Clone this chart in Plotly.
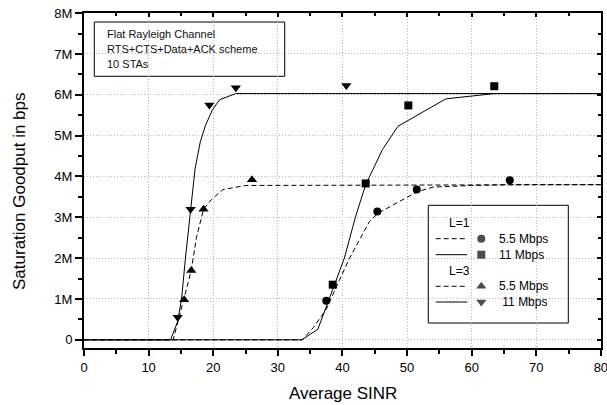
import plotly.graph_objects as go

# ---------------- data (values in millions of bps) ----------------
# analytical curves
l3_11_line_x = [0, 13.4, 14.5, 15.1, 15.7, 16.5, 17.2, 18.0, 18.8, 19.9, 21.0, 23.5, 80]
l3_11_line_y = [0, 0, 0.45, 1.0, 2.0, 3.2, 4.2, 4.85, 5.25, 5.64, 5.88, 6.03, 6.03]

l3_55_line_x = [0, 13.8, 14.55, 15.5, 16.6, 17.4, 18.5, 19.7, 21.5, 25.0, 80]
l3_55_line_y = [0, 0, 0.45, 1.0, 1.7, 2.5, 3.2, 3.43, 3.68, 3.78, 3.8]

l1_11_line_x = [0, 33.7, 36.2, 38.5, 40.3, 42.0, 43.6, 46.2, 48.6, 56.0, 63.5, 80]
l1_11_line_y = [0, 0, 0.26, 1.22, 2.0, 3.0, 3.8, 4.66, 5.23, 5.9, 6.03, 6.03]

l1_55_line_x = [0, 33.8, 35.5, 37.5, 39.5, 41.1, 42.3, 44.2, 45.5, 48.3, 51.5, 54.0, 60.0, 66.0, 80]
l1_55_line_y = [0, 0, 0.3, 0.75, 1.45, 2.0, 2.35, 2.9, 3.1, 3.34, 3.62, 3.74, 3.78, 3.8, 3.8]

# simulation points
l3_11_pts_x = [14.5, 16.5, 19.4, 23.5, 40.6]
l3_11_pts_y = [0.55, 3.2, 5.75, 6.17, 6.23]
l3_55_pts_x = [15.5, 16.6, 18.5, 26.0]
l3_55_pts_y = [0.98, 1.70, 3.2, 3.92]
l1_55_pts_x = [37.5, 45.4, 51.5, 65.9]
l1_55_pts_y = [0.96, 3.14, 3.68, 3.91]
l1_11_pts_x = [38.5, 43.6, 50.2, 63.5]
l1_11_pts_y = [1.35, 3.83, 5.74, 6.21]

x_ticks = [0, 10, 20, 30, 40, 50, 60, 70, 80]
y_ticks = [0, 1, 2, 3, 4, 5, 6, 7, 8]
y_tick_labels = ["0", "1M", "2M", "3M", "4M", "5M", "6M", "7M", "8M"]

info_lines = ["Flat Rayleigh Channel", "RTS+CTS+Data+ACK scheme", "10 STAs"]
legend_headers = ["L=1", "L=3"]
legend_labels = ["5.5 Mbps", "11 Mbps", "5.5 Mbps", " 11 Mbps"]
legend_symbols = ["circle", "square", "triangle-up", "triangle-down"]
legend_dashes = ["dash", "solid", "dash", "solid"]

# ---------------- layout geometry ----------------
W, H = 607, 405
ML, MR, MT, MB = 84, 6, 13, 57
PW, PH = W - ML - MR, H - MT - MB
FONT = "Liberation Sans, Arial, Helvetica, sans-serif"
DASH = "5px,3px"
XR = [0, 80.02]
YR = [-0.2, 8.003]


def fx(px):
    return (px - ML) / PW


def fy(py):
    return (H - MB - py) / PH


fig = go.Figure()

def add_line(x, y, dash):
    fig.add_trace(go.Scatter(x=x, y=y, mode="lines", showlegend=False, hoverinfo="skip",
                             line=dict(color="black", width=1, dash=DASH if dash == "dash" else "solid")))

add_line(l3_11_line_x, l3_11_line_y, "solid")
add_line(l3_55_line_x, l3_55_line_y, "dash")
add_line(l1_11_line_x, l1_11_line_y, "solid")
add_line(l1_55_line_x, l1_55_line_y, "dash")

MSIZE = {"circle": 8, "square": 8, "triangle-up": 9, "triangle-down": 9}

def add_pts(x, y, sym):
    fig.add_trace(go.Scatter(x=x, y=y, mode="markers", showlegend=False,
                             marker=dict(symbol=sym, size=MSIZE[sym], color="black", line=dict(width=0))))

add_pts(l1_55_pts_x, l1_55_pts_y, "circle")
add_pts(l1_11_pts_x, l1_11_pts_y, "square")
add_pts(l3_55_pts_x, l3_55_pts_y, "triangle-up")
add_pts(l3_11_pts_x, l3_11_pts_y, "triangle-down")

# dummy trace for mirrored (top/right) axes
fig.add_trace(go.Scatter(x=[None], y=[None], xaxis="x2", yaxis="y2", showlegend=False, hoverinfo="skip"))

# ---------------- custom legend ----------------
row_py = [238.7, 254.7, 286.3, 302.0]
label_px = [496.7, 497.3, 496.7, 497.3]
fig.add_trace(go.Scatter(
    x=[fx(481.3)] * 4, y=[fy(p) for p in row_py], mode="markers", xaxis="x3", yaxis="y3",
    showlegend=False, hoverinfo="skip",
    marker=dict(symbol=legend_symbols, size=[MSIZE[s] for s in legend_symbols], color="black", line=dict(width=0))))

shapes = []
annotations = []
# info box
shapes.append(dict(type="rect", xref="paper", yref="paper", x0=fx(94.3), x1=fx(284.7), y0=fy(76.3), y1=fy(22),
                   line=dict(color="black", width=1), fillcolor="white", layer="between"))
for i, t in enumerate(info_lines):
    annotations.append(dict(text=t, xref="paper", yref="paper", x=fx(104.5), y=fy(33.5 + 15.3 * i),
                            xanchor="left", yanchor="middle", showarrow=False,
                            font=dict(family=FONT, size=11, color="#111111")))
# legend box
shapes.append(dict(type="rect", xref="paper", yref="paper", x0=fx(428.3), x1=fx(568.3), y0=fy(323), y1=fy(205.3),
                   line=dict(color="black", width=1), fillcolor="white", layer="between"))
for i, (lab, d) in enumerate(zip(legend_labels, legend_dashes)):
    shapes.append(dict(type="line", xref="paper", yref="paper", x0=fx(435.7), x1=fx(467.3),
                       y0=fy(row_py[i]), y1=fy(row_py[i]),
                       line=dict(color="black", width=1, dash=DASH if d == "dash" else "solid")))
    annotations.append(dict(text=lab, xref="paper", yref="paper", x=fx(label_px[i]), y=fy(row_py[i]),
                            xanchor="left", yanchor="middle", showarrow=False,
                            font=dict(family=FONT, size=12, color="black")))
for hdr, py in zip(legend_headers, [223.0, 271.3]):
    annotations.append(dict(text=hdr, xref="paper", yref="paper", x=fx(459), y=fy(py),
                            xanchor="center", yanchor="middle", showarrow=False,
                            font=dict(family=FONT, size=12, color="black")))

# axis titles
annotations.append(dict(text="Average SINR", xref="paper", yref="paper", x=fx(342.5), y=fy(393.5),
                        xanchor="center", yanchor="middle", showarrow=False,
                        font=dict(family=FONT, size=17, color="black")))
annotations.append(dict(text="Saturation Goodput in bps", xref="paper", yref="paper", x=fx(20), y=fy(191),
                        xanchor="center", yanchor="middle", showarrow=False, textangle=-90,
                        font=dict(family=FONT, size=17, color="black")))

GRID = dict(showgrid=True, gridcolor="#b8b8b8", gridwidth=1, griddash="1px,2px")

fig.update_layout(
    width=W, height=H, margin=dict(l=ML, r=MR, t=MT, b=MB, autoexpand=False),
    paper_bgcolor="white", plot_bgcolor="white",
    font=dict(family=FONT, size=13, color="black"),
    showlegend=False,
    xaxis=dict(range=XR, tickvals=x_ticks, ticks="outside", ticklen=6, tickwidth=1.5, tickcolor="black",
               showline=True, linewidth=2, linecolor="black", zeroline=False, ticklabeloverflow="allow",
               automargin=False,
               minor=dict(dtick=5, tick0=0, ticks="outside", ticklen=3.5, tickwidth=1.5, tickcolor="black", showgrid=False),
               tickfont=dict(size=13), **GRID),
    yaxis=dict(range=YR, tickvals=y_ticks, ticktext=y_tick_labels, ticks="outside", ticklen=7,
               tickwidth=1.5, tickcolor="black", showline=True, linewidth=2, linecolor="black", zeroline=False,
               ticklabeloverflow="allow", automargin=False,
               minor=dict(dtick=0.5, tick0=0, ticks="outside", ticklen=4, tickwidth=1.5, tickcolor="black", showgrid=False),
               tickfont=dict(size=13), **GRID),
    xaxis2=dict(range=XR, overlaying="x", side="top", anchor="y", showticklabels=False, automargin=False,
                tickvals=x_ticks, ticks="inside", ticklen=4, tickwidth=1.5, tickcolor="black",
                minor=dict(dtick=5, tick0=0, ticks="inside", ticklen=3, tickwidth=1.5, tickcolor="black", showgrid=False),
                showline=True, linewidth=2, linecolor="black", showgrid=False, zeroline=False),
    yaxis2=dict(range=YR, overlaying="y", side="right", anchor="x", showticklabels=False, automargin=False,
                tickvals=y_ticks, ticks="inside", ticklen=4, tickwidth=1.5, tickcolor="black",
                minor=dict(dtick=0.5, tick0=0, ticks="inside", ticklen=3, tickwidth=1.5, tickcolor="black", showgrid=False),
                showline=True, linewidth=2, linecolor="black", showgrid=False, zeroline=False),
    xaxis3=dict(range=[0, 1], overlaying="x", visible=False, anchor="y3"),
    yaxis3=dict(range=[0, 1], overlaying="y", visible=False, anchor="x3"),
    shapes=shapes, annotations=annotations,
)

fig.write_html("out.html", config={"displayModeBar": False},
               post_script="document.body.style.margin='0';document.body.style.padding='0';")
